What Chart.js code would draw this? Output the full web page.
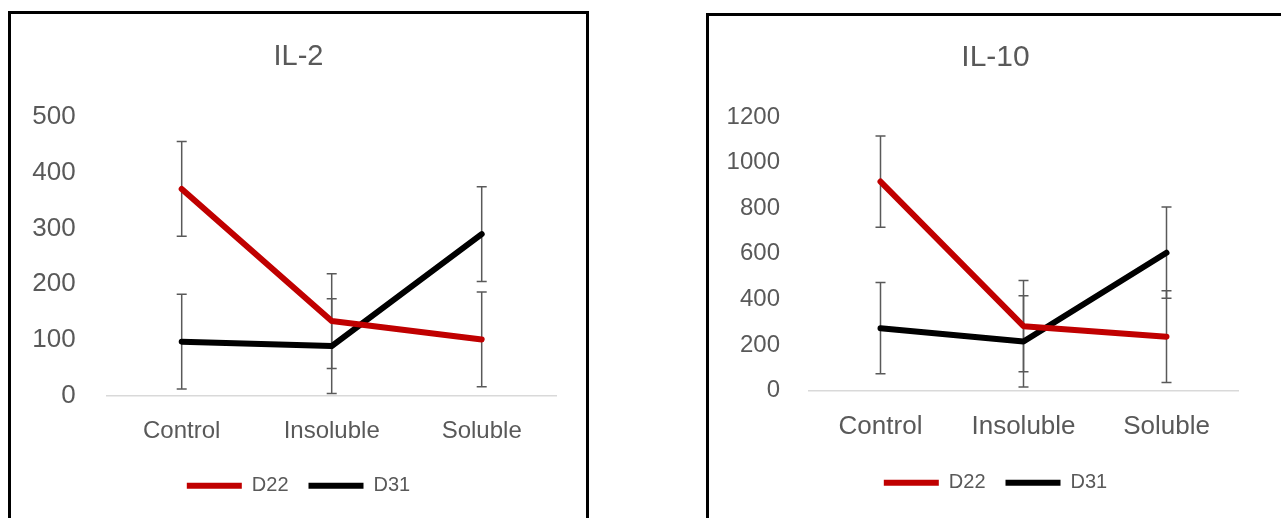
<!DOCTYPE html>
<html lang="en">

<head>
    <meta charset="UTF-8">
    <title>IL-2 / IL-10</title>
    <script src="https://cdn.jsdelivr.net/npm/chart.js"></script> <!-- Chart.js -->
    <style>
        body { margin: 0; background: #fff; width: 1281px; height: 518px; overflow: hidden; position: relative; }
        .painel { position: absolute; border: 3px solid #000; box-sizing: border-box; }
        #painel1 { left: 8px; top: 11px; width: 581px; height: 540px; }
        #painel2 { left: 706px; top: 13px; width: 620px; height: 540px; }
        canvas { position: absolute; }
        #grafIL2 { left: 13px; top: 15px; }
        #grafIL10 { left: 710px; top: 17px; }
    </style>
</head>

<body>
    <!-- moldura de cada gráfico -->
    <div class="painel" id="painel1"></div>
    <div class="painel" id="painel2"></div>

    <canvas id="grafIL2" width="571" height="503"></canvas>
    <canvas id="grafIL10" width="571" height="501"></canvas>

<script>
    // dados
    var categorias = ["Control", "Insoluble", "Soluble"];

    var il2D22 = [371, 134, 101];
    var il2D31 = [97, 89, 290];
    var il2ErroD22 = [85, 85, 85];
    var il2ErroD31 = [85, 85, 85];

    var il10D22 = [917, 283, 237];
    var il10D31 = [274, 216, 605];
    var il10ErroD22 = [200, 200, 201];
    var il10ErroD31 = [200, 200, 200];

    var corTexto = '#595959';

    // barras de erro (desenhadas por baixo das linhas)
    var barrasErro = {
        id: 'barrasErro',
        beforeDatasetsDraw(chart) {
            var ctx = chart.ctx;
            var y = chart.scales.y;
            ctx.save();
            ctx.strokeStyle = corTexto;
            ctx.lineWidth = 1.5;
            chart.data.datasets.forEach(function (ds, i) {
                var meta = chart.getDatasetMeta(i);
                meta.data.forEach(function (pt, j) {
                    var v = ds.data[j], e = ds.erros[j];
                    var yTopo = y.getPixelForValue(v + e);
                    var yBase = y.getPixelForValue(v - e);
                    ctx.beginPath();
                    ctx.moveTo(pt.x, yTopo); ctx.lineTo(pt.x, yBase);
                    ctx.moveTo(pt.x - 5, yTopo); ctx.lineTo(pt.x + 5, yTopo);
                    ctx.moveTo(pt.x - 5, yBase); ctx.lineTo(pt.x + 5, yBase);
                    ctx.stroke();
                });
            });
            ctx.restore();
        }
    };

    Chart.defaults.font.family = "'Liberation Sans', Arial, sans-serif";
    Chart.defaults.color = corTexto;

    function criarGrafico(id, titulo, d22, d31, e22, e31, maxY, passo, cfg) {
        new Chart(document.getElementById(id), {
            type: 'line',
            data: {
                labels: categorias,
                datasets: [
                    { label: 'D22', data: d22, erros: e22, borderColor: '#C00000', backgroundColor: '#C00000',
                      borderWidth: 6, borderCapStyle: 'round', borderJoinStyle: 'round', pointRadius: 0, tension: 0 },
                    { label: 'D31', data: d31, erros: e31, borderColor: '#000000', backgroundColor: '#000000',
                      borderWidth: 6, borderCapStyle: 'round', borderJoinStyle: 'round', pointRadius: 0, tension: 0 }
                ]
            },
            options: {
                responsive: false,
                animation: false,
                devicePixelRatio: 1,
                layout: { padding: { left: 0, right: 0, top: 0, bottom: cfg.baixo } },
                plugins: {
                    title: {
                        display: true, text: titulo, color: corTexto,
                        font: { size: cfg.fTitulo, weight: 'normal' },
                        padding: { top: cfg.tTopo, bottom: cfg.tBase }
                    },
                    legend: {
                        position: 'bottom',
                        labels: { usePointStyle: true, pointStyle: 'line', pointStyleWidth: 55, color: corTexto, font: { size: 20 }, padding: 20 }
                    },
                    tooltip: { enabled: false }
                },
                scales: {
                    x: {
                        offset: true,
                        grid: { display: false, drawTicks: false },
                        border: { display: true, color: '#d9d9d9', width: 1.5 },
                        ticks: { color: corTexto, font: { size: cfg.fX }, padding: cfg.padX },
                        afterFit: function (s) { s.height = cfg.altX; }
                    },
                    y: {
                        min: 0, max: maxY,
                        grid: { display: false, drawTicks: false },
                        border: { display: false },
                        ticks: {
                            stepSize: passo, color: corTexto, font: { size: cfg.fY }, padding: cfg.padY,
                            callback: function (v) { return String(v); } // sem separador de milhar
                        },
                        afterFit: function (s) { s.width = cfg.largY; }
                    },
                    // eixo vazio à direita, só para reservar a margem
                    margem: {
                        position: 'right',
                        grid: { display: false, drawTicks: false },
                        border: { display: false },
                        ticks: { display: false },
                        afterFit: function (s) { s.width = cfg.dir; }
                    }
                }
            },
            plugins: [barrasErro]
        });
    }

    criarGrafico('grafIL2', 'IL-2', il2D22, il2D31, il2ErroD22, il2ErroD31, 500, 100,
        { baixo: 12.3, fTitulo: 29, tTopo: 24.6, tBase: 42.6, fX: 24, padX: 21, altX: 60, fY: 26, padY: 31, largY: 93.7, dir: 27.3 });

    criarGrafico('grafIL10', 'IL-10', il10D22, il10D31, il10ErroD22, il10ErroD31, 1200, 200,
        { baixo: 15.3, fTitulo: 30, tTopo: 23, tBase: 41, fX: 26, padX: 20.4, altX: 62, fY: 24, padY: 29, largY: 99, dir: 43 });
</script>
</body>

</html>
